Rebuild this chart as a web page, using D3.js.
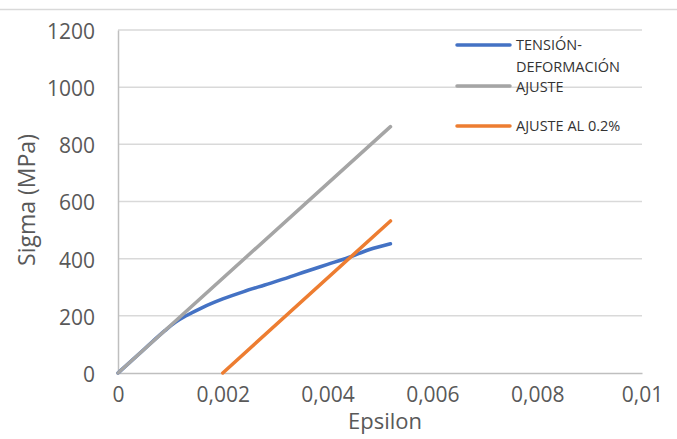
<!DOCTYPE html>
<html>
<head>
<meta charset="utf-8">
<script src="https://cdn.jsdelivr.net/npm/d3@7"></script>
<style>
  html, body { margin: 0; padding: 0; background: #fff; }
  svg { display: block; font-family: "Open Sans", sans-serif; }
</style>
</head>
<body>
<svg id="chart" width="677" height="439"></svg>
<script>
// ---- data ----
const strainTD = [0, 0.0005, 0.0009, 0.0011, 0.0013, 0.0016, 0.002, 0.0024, 0.0028, 0.0032, 0.0036, 0.004, 0.0044, 0.0048, 0.0052];
const sigmaTD  = [0, 83, 149, 178, 200, 228, 259, 285, 308, 331, 356, 380, 404, 432, 452];
const strainFit = [0, 0.0052];
const sigmaFit  = [0, 862];
const strainFit02 = [0.002, 0.0052];
const sigmaFit02  = [0, 532];
const xTicks = [0, 0.002, 0.004, 0.006, 0.008, 0.01];
const xTickLabels = ["0", "0,002", "0,004", "0,006", "0,008", "0,01"];
const yTicks = [0, 200, 400, 600, 800, 1000, 1200];
const seriesNames = ["TENSIÓN-\nDEFORMACIÓN", "AJUSTE", "AJUSTE AL 0.2%"];
const seriesColors = ["#4472c4", "#a5a5a5", "#ed7d31"];

// ---- layout ----
const svg = d3.select("#chart");
const x = d3.scaleLinear().domain([0, 0.01]).range([118, 642]);
const y = d3.scaleLinear().domain([0, 1200]).range([373, 30]);

// top border line
svg.append("line").attr("x1", 0).attr("x2", 677).attr("y1", 9.5).attr("y2", 9.5)
  .attr("stroke", "#d9d9d9").attr("stroke-width", 1.5);

// gridlines
svg.append("g").selectAll("line").data(yTicks.filter(d => d > 0)).join("line")
  .attr("x1", x(0)).attr("x2", x(0.01))
  .attr("y1", d => y(d)).attr("y2", d => y(d))
  .attr("stroke", "#d9d9d9").attr("stroke-width", 1.5);

// axes
const yAxis = d3.axisLeft(y).tickValues(yTicks).tickSize(0).tickPadding(23).tickFormat(d3.format("d"));
const gy = svg.append("g").attr("transform", `translate(${x(0)},0)`).call(yAxis);
gy.select(".domain").attr("stroke", "#bfbfbf").attr("stroke-width", 1.5);
gy.selectAll("text").attr("fill", "#595959").attr("font-size", 21)
  .attr("font-family", "Open Sans, sans-serif").attr("dy", "0.4em");

const xAxis = d3.axisBottom(x).tickValues(xTicks).tickSize(0).tickPadding(23)
  .tickFormat((d, i) => xTickLabels[i]);
const gx = svg.append("g").attr("transform", `translate(0,${y(0)})`).call(xAxis);
gx.select(".domain").attr("stroke", "#bfbfbf").attr("stroke-width", 1.5);
gx.selectAll("text").attr("fill", "#595959").attr("font-size", 21)
  .attr("font-family", "Open Sans, sans-serif").attr("dy", "0.3em");

// axis titles
svg.append("text").attr("x", 385).attr("y", 429).attr("text-anchor", "middle")
  .attr("font-size", 22).attr("fill", "#595959").text("Epsilon");
svg.append("text").attr("transform", "translate(35,200) rotate(-90)").attr("text-anchor", "middle")
  .attr("font-size", 23).attr("fill", "#595959").text("Sigma (MPa)");

// series
const line = d3.line().x(d => x(d[0])).y(d => y(d[1]));
const series = [
  { data: strainFit.map((s, i) => [s, sigmaFit[i]]), color: seriesColors[1], curve: d3.curveLinear },
  { data: strainFit02.map((s, i) => [s, sigmaFit02[i]]), color: seriesColors[2], curve: d3.curveLinear },
  { data: strainTD.map((s, i) => [s, sigmaTD[i]]), color: seriesColors[0], curve: d3.curveMonotoneX },
];
const order = [series[2], series[0], series[1]];
svg.append("g").selectAll("path").data(order).join("path")
  .attr("d", d => line.curve(d.curve)(d.data))
  .attr("fill", "none").attr("stroke", d => d.color)
  .attr("stroke-width", 3.5).attr("stroke-linecap", "round").attr("stroke-linejoin", "round");

// legend
const legendItems = [
  { name: seriesNames[0], color: seriesColors[0], ly: 45, ty: 50 },
  { name: seriesNames[1], color: seriesColors[1], ly: 86, ty: 92 },
  { name: seriesNames[2], color: seriesColors[2], ly: 126, ty: 131 },
];
const lg = svg.append("g");
legendItems.forEach(it => {
  lg.append("line").attr("x1", 457).attr("x2", 510).attr("y1", it.ly).attr("y2", it.ly)
    .attr("stroke", it.color).attr("stroke-width", 3.5).attr("stroke-linecap", "round");
  const t = lg.append("text").attr("x", 516).attr("y", it.ty).attr("font-size", 14.5).attr("fill", "#333");
  it.name.split("\n").forEach((s, i) => {
    t.append("tspan").attr("x", 516).attr("dy", i === 0 ? 0 : 22).text(s);
  });
});
</script>
</body>
</html>
